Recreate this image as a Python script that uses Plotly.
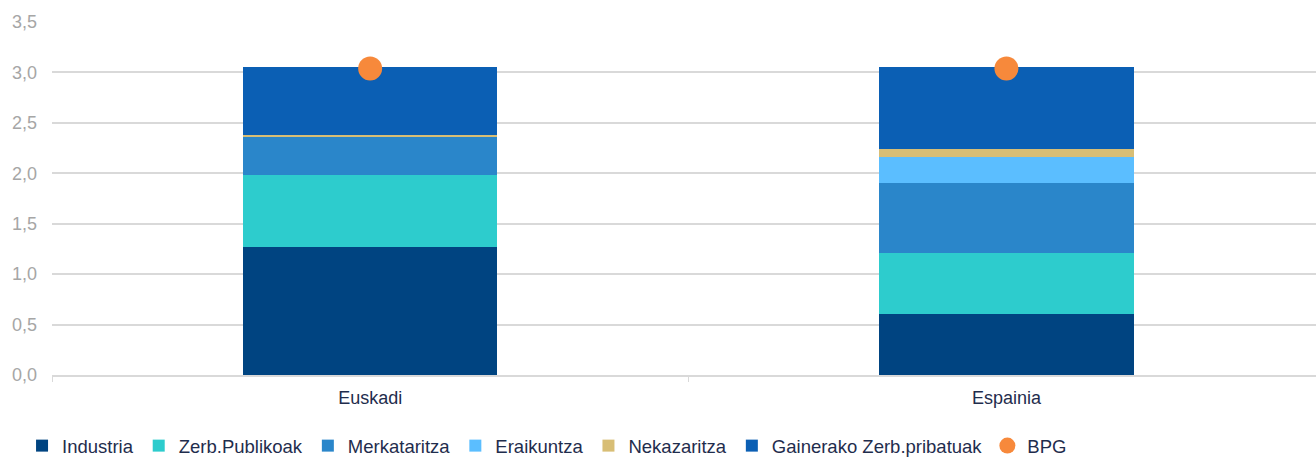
import plotly.graph_objects as go

categories = ["Euskadi", "Espainia"]
series_names = ["Industria", "Zerb.Publikoak", "Merkataritza", "Eraikuntza", "Nekazaritza", "Gainerako Zerb.pribatuak"]
industria = [1.27, 0.60]
zerb_publikoak = [0.71, 0.61]
merkataritza = [0.375, 0.69]
eraikuntza = [0.0, 0.26]
nekazaritza = [0.025, 0.08]
gainerako = [0.67, 0.81]
bpg = [3.04, 3.04]
y_ticks = [0.0, 0.5, 1.0, 1.5, 2.0, 2.5, 3.0, 3.5]

colors = ["#004481", "#2DCCCD", "#2A86CA", "#5BBEFF", "#D8BE75", "#0B5FB4"]
series_values = [industria, zerb_publikoak, merkataritza, eraikuntza, nekazaritza, gainerako]

FONT = "Liberation Sans, Arial, sans-serif"

fig = go.Figure()
for name, vals, col in zip(series_names, series_values, colors):
    fig.add_trace(go.Bar(
        x=categories, y=vals, name=name, width=0.4,
        marker=dict(color=col, line=dict(width=0)),
    ))
fig.add_trace(go.Scatter(
    x=categories, y=bpg, name="BPG", mode="markers",
    marker=dict(color="#F7893B", size=24, line=dict(width=0)),
))

fig.update_layout(
    width=1316, height=457,
    barmode="stack",
    separators=",.",
    paper_bgcolor="white", plot_bgcolor="white",
    margin=dict(l=52, r=0, t=22, b=82, autoexpand=False),
    font=dict(family=FONT, size=18, color="#1F2D4D"),
    showlegend=True,
    legend=dict(
        orientation="h", traceorder="normal",
        xref="paper", yref="paper",
        x=-0.0237, y=-0.2014, xanchor="left", yanchor="middle",
        font=dict(family=FONT, size=18.5, color="#1F2D4D"),
        itemwidth=30, borderwidth=0,
    ),
    xaxis=dict(
        range=[-0.5, 1.4865], automargin=False,
        showline=True, linecolor="#D9D9D9", linewidth=1.5,
        ticks="outside", tickson="boundaries", ticklen=5, tickcolor="#D9D9D9",
        ticklabelstandoff=6,
        tickfont=dict(family=FONT, size=18, color="#1F2D4D"),
        showgrid=False,
    ),
    yaxis=dict(
        range=[0, 3.5], automargin=False,
        tickvals=y_ticks, tickformat=".1f",
        showgrid=True, gridcolor="#D9D9D9", gridwidth=1.5,
        zeroline=False, showline=False,
        ticks="", ticklabelstandoff=14,
        tickfont=dict(family=FONT, size=18, color="#A6A6A6"),
    ),
)

fig.write_html(
    "out.html",
    config={"displayModeBar": False},
    post_script="document.body.style.margin='0';document.body.style.padding='0';document.body.style.overflow='hidden';",
)
